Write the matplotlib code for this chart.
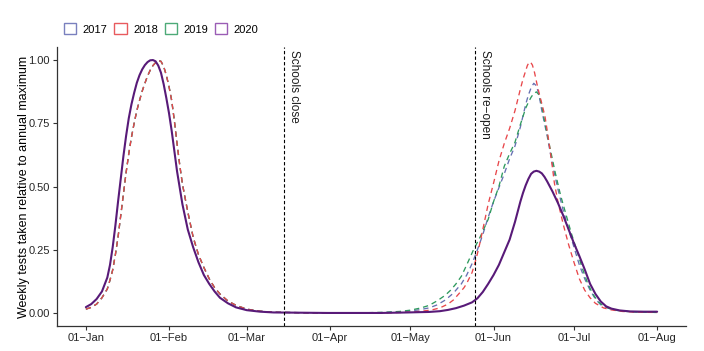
import matplotlib
matplotlib.use("Agg")
import matplotlib.pyplot as plt
from matplotlib.patches import Patch

plt.rcParams['font.family'] = ['Liberation Sans', 'DejaVu Sans']

# ---- data (day of year 2020, 0 = 01-Jan) ----
tick_days = [0, 31, 60, 91, 121, 152, 182, 213]
tick_labels = ['01\u2212Jan', '01\u2212Feb', '01\u2212Mar', '01\u2212Apr',
               '01\u2212May', '01\u2212Jun', '01\u2212Jul', '01\u2212Aug']
y_ticks = [0.0, 0.25, 0.5, 0.75, 1.0]
y_tick_labels = ['0.00', '0.25', '0.50', '0.75', '1.00']

years = ['2017', '2018', '2019', '2020']

jan_days_dashed = [0, 2, 4, 6, 8, 9, 10, 11, 12, 13, 14, 15, 16, 17, 18, 19, 20, 21, 22, 23,
                   24, 25, 26, 27, 28, 29, 30, 31, 32, 33, 34, 35, 36, 38, 40, 42, 44, 46,
                   48, 50, 53, 56, 60, 65, 70, 80, 90, 100]
jan_vals_dashed = [0.015, 0.022, 0.035, 0.06, 0.095, 0.13, 0.17, 0.23, 0.3, 0.385, 0.47,
                   0.555, 0.63, 0.695, 0.75, 0.8, 0.84, 0.877, 0.908, 0.937, 0.96, 0.978,
                   0.99, 0.998, 0.995, 0.975, 0.94, 0.895, 0.84, 0.76, 0.67, 0.585, 0.51,
                   0.4, 0.3, 0.23, 0.18, 0.135, 0.1, 0.075, 0.047, 0.03, 0.015, 0.007,
                   0.003, 0.001, 0.0, 0.0]

days_2017 = jan_days_dashed + [110, 116, 120, 124, 128, 131, 134, 137, 140, 142, 144, 146,
                               148, 150, 152, 154, 156, 158, 160, 162, 163, 164, 165, 166,
                               167, 168, 169, 170, 172, 174, 176, 178, 180, 182, 184, 186,
                               188, 190, 192, 195, 198, 203, 213]
vals_2017 = jan_vals_dashed + [0.001, 0.004, 0.007, 0.012, 0.02, 0.032, 0.051, 0.078, 0.115,
                               0.15, 0.195, 0.25, 0.31, 0.378, 0.44, 0.495, 0.55, 0.61, 0.66,
                               0.735, 0.78, 0.825, 0.862, 0.89, 0.908, 0.898, 0.86, 0.8, 0.7,
                               0.585, 0.49, 0.405, 0.33, 0.26, 0.19, 0.135, 0.09, 0.055,
                               0.032, 0.018, 0.01, 0.005, 0.002]

days_2018 = jan_days_dashed + [110, 118, 122, 126, 129, 132, 135, 137, 139, 141, 142, 144,
                               145, 146, 147, 148, 150, 152, 154, 156, 158, 160, 162, 163,
                               164, 164.6, 165.2, 165.8, 166.5, 167.3, 168.2, 169.2, 170.2,
                               171.2, 172.1, 173, 173.9, 174.7, 176, 178, 180, 182, 184, 186,
                               188, 190, 193, 196, 200, 205, 213]
vals_2018 = jan_vals_dashed + [0.0, 0.002, 0.004, 0.008, 0.012, 0.02, 0.035, 0.051, 0.075,
                               0.1, 0.117, 0.16, 0.195, 0.235, 0.28, 0.33, 0.43, 0.513, 0.6,
                               0.67, 0.73, 0.8, 0.885, 0.925, 0.958, 0.978, 0.99, 0.992, 0.98,
                               0.95, 0.905, 0.86, 0.82, 0.776, 0.715, 0.65, 0.58, 0.513,
                               0.44, 0.35, 0.27, 0.2, 0.135, 0.09, 0.06, 0.038, 0.02, 0.012,
                               0.006, 0.003, 0.002]

days_2019 = jan_days_dashed + [105, 112, 117, 121, 125, 128, 131, 134, 136, 138, 140, 142,
                               144.5, 147, 150, 152, 154, 156, 158, 160, 162, 164, 165, 166,
                               167, 168, 169, 170, 171, 173, 175, 177, 179, 181, 183, 185,
                               187, 189, 191, 193, 196, 200, 205, 213]
vals_2019 = jan_vals_dashed + [0.001, 0.003, 0.006, 0.011, 0.02, 0.03, 0.048, 0.07, 0.09,
                               0.115, 0.145, 0.19, 0.249, 0.3, 0.37, 0.44, 0.5, 0.58, 0.63,
                               0.675, 0.745, 0.81, 0.833, 0.853, 0.868, 0.874, 0.862, 0.82,
                               0.76, 0.655, 0.555, 0.465, 0.39, 0.315, 0.249, 0.18, 0.12,
                               0.075, 0.045, 0.027, 0.014, 0.007, 0.004, 0.002]

days_2020 = [0, 2, 4, 6, 8, 9, 10, 11, 12, 13, 14, 15, 16, 17, 18, 19, 20, 21, 22, 23, 24,
             25, 26, 27, 28, 29, 30, 31, 32, 33, 34, 36, 38, 40, 42, 44, 46, 48, 50, 53, 56,
             60, 65, 70, 80, 90, 100, 110, 120, 128, 132, 135, 138, 141, 144, 146, 148, 150,
             152, 154, 156, 158, 160, 162, 163, 164, 165, 166, 167, 168, 169, 170, 171, 172,
             174, 176, 178, 180, 182, 184, 186, 188, 190, 192, 194, 196, 199, 203, 208, 213]
vals_2020 = [0.023, 0.035, 0.055, 0.085, 0.14, 0.19, 0.26, 0.345, 0.44, 0.53, 0.62, 0.7,
             0.77, 0.825, 0.87, 0.91, 0.94, 0.963, 0.98, 0.992, 0.999, 1.0, 0.995, 0.978,
             0.95, 0.905, 0.85, 0.79, 0.72, 0.64, 0.56, 0.43, 0.33, 0.26, 0.2, 0.15, 0.115,
             0.085, 0.06, 0.038, 0.022, 0.011, 0.005, 0.002, 0.001, 0.0, 0.0, 0.0, 0.002,
             0.004, 0.007, 0.012, 0.019, 0.029, 0.042, 0.058, 0.083, 0.115, 0.15, 0.19,
             0.24, 0.29, 0.36, 0.44, 0.475, 0.505, 0.53, 0.55, 0.559, 0.562, 0.559, 0.552,
             0.538, 0.52, 0.48, 0.435, 0.385, 0.33, 0.275, 0.225, 0.172, 0.115, 0.075, 0.045,
             0.026, 0.017, 0.01, 0.006, 0.005, 0.005]

events = ['Schools close', 'Schools re\u2212open']
event_days = [74, 145]

# ---- styles ----
line_colors = {'2017': '#6670B2', '2018': '#E8474B', '2019': '#2E9A5E', '2020': '#581A78'}
legend_colors = {'2017': '#7A80BE', '2018': '#E85A5E', '2019': '#4DAA78', '2020': '#9A5DB5'}

fig = plt.figure(figsize=(7.04, 3.51), dpi=100)
ax = fig.add_axes([57.3 / 704, 1 - 325.6 / 351, (685.7 - 57.3) / 704, (325.6 - 47.4) / 351])

series = {'2017': (days_2017, vals_2017), '2018': (days_2018, vals_2018),
          '2019': (days_2019, vals_2019), '2020': (days_2020, vals_2020)}
for yr in ['2017', '2019', '2018']:
    d, v = series[yr]
    ax.plot(d, v, color=line_colors[yr], lw=0.95, linestyle=(0, (4, 3)))
d, v = series['2020']
ax.plot(d, v, color=line_colors['2020'], lw=1.5, solid_capstyle='round',
        solid_joinstyle='round')

for name, ed in zip(events, event_days):
    ax.axvline(ed, color='black', lw=0.8, linestyle=(0, (3, 2)))
    ax.text(ed + 3.7, 1.04, name, rotation=270, ha='center', va='top',
            fontsize=8.5, color='#1a1a1a')

ax.set_xlim(-10.65, 223.65)
ax.set_ylim(-0.05, 1.05)
ax.set_xticks(tick_days)
ax.set_xticklabels(tick_labels)
ax.set_yticks(y_ticks)
ax.set_yticklabels(y_tick_labels)
for s in ['top', 'right']:
    ax.spines[s].set_visible(False)
for s in ['left', 'bottom']:
    ax.spines[s].set_color('#333333')
    ax.spines[s].set_linewidth(0.9)
ax.tick_params(axis='both', colors='#333333', labelcolor='#262626', labelsize=8,
               length=3, width=0.8, pad=2.5)
ax.set_ylabel('Weekly tests taken relative to annual maximum', fontsize=9,
              color='black', labelpad=-1.5)

handles = [Patch(facecolor='white', edgecolor=legend_colors[y], lw=1.0) for y in years]
fig.legend(handles, years, loc='center left', bbox_to_anchor=(64 / 704, 1 - 29 / 351),
           ncol=4, frameon=False, fontsize=8, handlelength=1.1, handleheight=1.1,
           handletextpad=0.6, columnspacing=0.6, borderpad=0, borderaxespad=0)

fig.savefig('out.png', dpi=100)
